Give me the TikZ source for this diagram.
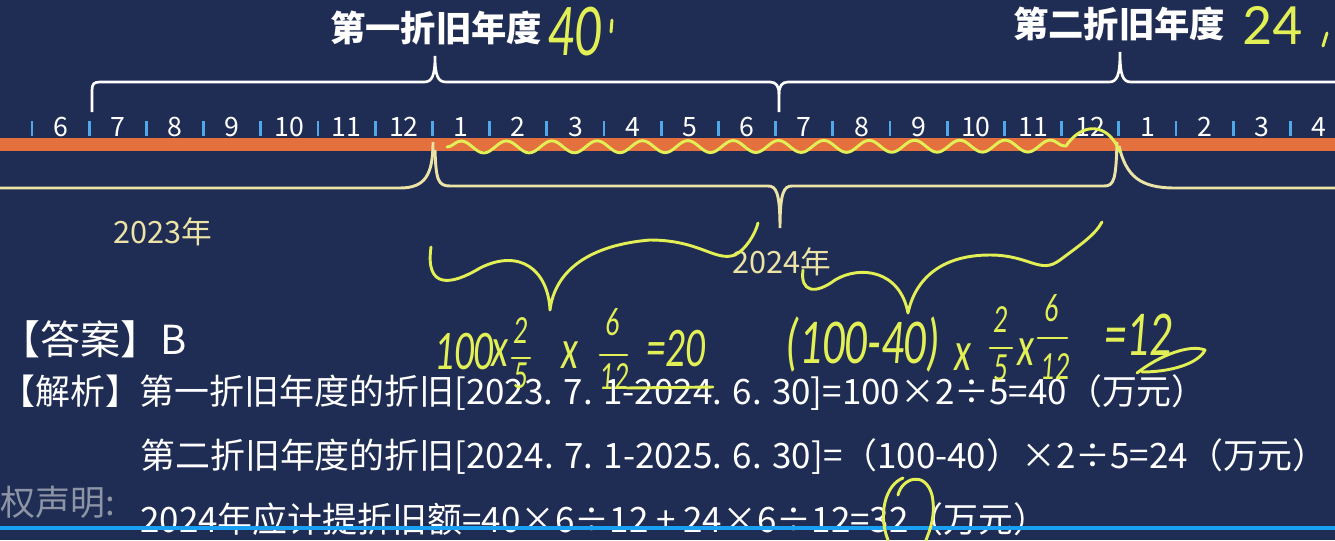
\documentclass[tikz,border=0pt]{standalone}
\usepackage{fontspec}
\setmainfont{Noto Sans CJK SC}
\newfontfamily\handfont[FakeStretch=0.7]{Carlito}
\newfontfamily\handwide{Carlito}
\usetikzlibrary{calc,positioning,decorations.pathmorphing}
\definecolor{board}{HTML}{1F2C54}
\definecolor{barorange}{HTML}{E4703E}
\definecolor{tickblue}{HTML}{4FA9E8}
\definecolor{printyellow}{HTML}{ECE3A6}
\definecolor{pen}{HTML}{E2EF55}
\definecolor{progress}{HTML}{19A0F2}
\definecolor{wmgray}{HTML}{8C94A6}
\tikzset{
  month/.style={
    text = white,
    font = \fontsize{20}{21}\selectfont,
    inner sep = 0pt
  },
  monthtick/.style={
    tickblue,
    line width = 2pt
  },
  period/.style={
    white,
    line width = 2pt
  },
  periodtitle/.style={
    text = white,
    font = \fontsize{26.5}{27}\selectfont\bfseries,
    inner sep = 0pt
  },
  yearbrace/.style={
    printyellow,
    line width = 2.2pt
  },
  yearlabel/.style={
    text = printyellow,
    font = \fontsize{23}{24}\selectfont,
    inner sep = 0pt
  },
  body/.style={
    text = white,
    font = \fontsize{26.2}{27}\selectfont,
    inner sep = 0pt,
    anchor = west
  },
  ink/.style={
    pen,
    line width = 2.2pt,
    line cap = round,
    line join = round
  },
  inktext/.style={
    text = pen,
    font = \handfont\itshape\fontsize{42}{42}\selectfont,
    inner sep = 0pt
  },
  inksmall/.style={
    inktext,
    font = \handfont\itshape\fontsize{30}{30}\selectfont
  }
}

\begin{document}
\begin{tikzpicture}[x=0.75pt, y=-0.75pt]
  \fill[board] (0,0) rectangle (1335,540);
  \useasboundingbox (0,0) rectangle (1335,540);
  \clip (0,0) rectangle (1335,540);

  % timeline
  \fill[barorange] (0,138) rectangle (1335,151);
  \foreach \k in {0,...,22}{
    \pgfmathsetmacro\tx{32+57.2*\k}
    \pgfmathtruncatemacro\mo{mod(\k+5,12)+1}
    \coordinate (t\k) at (\tx,136);
    \draw[monthtick] (\tx,121) -- (t\k);
    \node[month] (m\k) at (\tx+28.6,127) {\mo};
  }

  % depreciation years
  \draw[period] (92,112) -- (92,90) .. controls (92,84) and (94,82) .. (100,82) -- (424,82)
    .. controls (432,82) and (435,76) .. (435,56) .. controls (435,76) and (438,82) .. (446,82)
    -- (770,82) .. controls (776,82) and (779,86) .. (779,94) -- (779,112);
  \draw[period] (779,94) .. controls (779,86) and (782,82) .. (788,82) -- (1109,82)
    .. controls (1117,82) and (1120,76) .. (1120,52) .. controls (1120,76) and (1123,82) .. (1131,82)
    -- (1335,82);
  \node[periodtitle] (first) at (436,28) {第一折旧年度};
  \node[periodtitle] (second) at (1119,24) {第二折旧年度};

  % calendar years
  \draw[yearbrace] (0,188) -- (400,188) .. controls (425,188) and (433,175) .. (433,142);
  \draw[yearbrace] (435,150) .. controls (436,180) and (438,186) .. (450,186) -- (768,186)
    .. controls (776,186) and (780,192) .. (780,228) .. controls (780,192) and (784,186) .. (792,186)
    -- (1104,186) .. controls (1114,186) and (1116,180) .. (1117,142);
  \draw[yearbrace] (1119,146) .. controls (1126,176) and (1140,188) .. (1175,188) -- (1335,188);
  \node[yearlabel] (y2023) at (163,232) {2023年};
  \node[yearlabel] (y2024) at (782,262) {2024年};

  % answer
  \node[body, font=\fontsize{30}{31}\selectfont] (answer) at (0,339) {【答案】B};
  \node[body] (line1) at (0,393) {【解析】第一折旧年度的折旧[2023. 7. 1-2024. 6. 30]=100×2÷5=40（万元）};
  \node[body] (line2) at (140,457) {第二折旧年度的折旧[2024. 7. 1-2025. 6. 30]=（100-40）×2÷5=24（万元）};
  \node[body] (line3) at (140,519) {2024年应计提折旧额=40×6÷12 + 24×6÷12=32（万元）};
  \node[body, text=wmgray] (notice) at (0,502) {权声明:};
  \fill[progress] (0,526) rectangle (1335,530);

  % handwriting
  \node[inktext, font=\handfont\itshape\fontsize{56}{56}\selectfont] (forty) at (574,32) {40};
  \draw[ink] (612,20) -- (611,32);
  \node[inktext, font=\handwide\fontsize{44}{44}\selectfont] (twentyfour) at (1272,25) {24};
  \draw[ink] (1327,33) -- (1323,46);
  \draw[ink, decorate, decoration={snake, amplitude=4.5pt, segment length=34pt}]
    (447,147) -- (1066,146);
  \draw[ink] (1066,146) .. controls (1082,122) and (1108,122) .. (1120,152);
  \draw[ink] (431,247) .. controls (425,290) and (452,285) .. (480,268)
    .. controls (520,248) and (548,270) .. (550,310) .. controls (555,270) and (590,245) .. (650,240)
    .. controls (700,240) and (715,262) .. (735,255) .. controls (745,250) and (755,235) .. (758,223);
  \draw[ink] (803,270) .. controls (800,292) and (815,295) .. (835,280)
    .. controls (860,265) and (900,270) .. (908,313) .. controls (915,280) and (940,255) .. (990,255)
    .. controls (1030,255) and (1040,275) .. (1060,260) .. controls (1080,245) and (1095,235) .. (1102,222);

  % first year share
  \node[inktext] (fa) at (464,352) {100};
  \node[inktext] (fb) at (500,353) {x};
  \node[inksmall] (fc) at (521,331) {2};
  \draw[ink] (512,358) -- (530,358);
  \node[inksmall] (fd) at (521,376) {5};
  \node[inktext] (fe) at (570,355) {x};
  \node[inksmall] (ff) at (613,322) {6};
  \draw[ink] (600,355) -- (627,355);
  \node[inksmall] (fg) at (614,377) {12};
  \node[inktext] (fh) at (676,349) {=20};
  \draw[ink] (627,388) -- (713,387);

  % second year share
  \node[inktext, font=\handfont\itshape\fontsize{48}{48}\selectfont] (sa) at (863,345) {(100-40)};
  \node[inktext] (sb) at (963,357) {x};
  \node[inksmall] (sc) at (1001,320) {2};
  \draw[ink] (990,348) -- (1012,348);
  \node[inksmall] (sd) at (1001,368) {5};
  \node[inktext] (se) at (1026,352) {x};
  \node[inksmall] (sf) at (1052,308) {6};
  \draw[ink] (1038,338) -- (1067,338);
  \node[inksmall] (sg) at (1055,367) {12};
  \node[inktext, font=\handfont\itshape\fontsize{48}{48}\selectfont] (sh) at (1138,335) {=12};
  \draw[ink] (1137,373) .. controls (1160,355) and (1190,344) .. (1205,350)
    .. controls (1198,364) and (1170,372) .. (1142,372);

  % circled result
  \draw[ink] (903,478) .. controls (885,485) and (878,515) .. (888,540);
  \draw[ink] (898,495) .. controls (902,478) and (925,470) .. (932,495)
    .. controls (936,515) and (930,530) .. (926,540);
\end{tikzpicture}
\end{document}
